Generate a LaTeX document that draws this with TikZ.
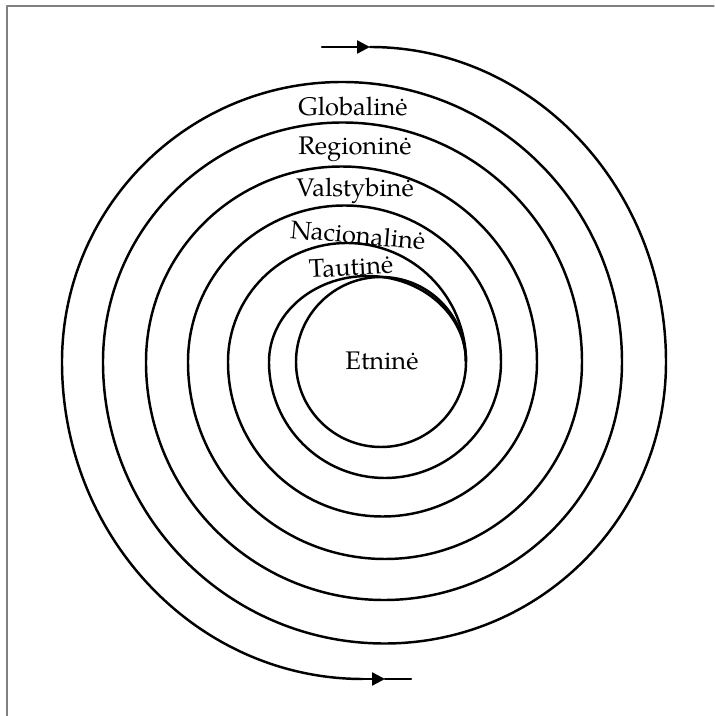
\documentclass[tikz,border=0pt]{standalone}
\usepackage{fontspec}
\setmainfont{TeX Gyre Pagella}
\usetikzlibrary{arrows.meta}
\begin{document}
\begin{tikzpicture}[line cap=round, line join=round,
    every node/.style={font=\fontsize{14.5}{17}\selectfont, inner sep=.5pt},
    spiral/.style={line width=1.4pt},
    tipmid/.style={-{Triangle[length=2.6mm,width=2.6mm]}}]
  \useasboundingbox (-7.26,-7.08) rectangle (7.02,7.24);
  \coordinate (In0)  at (-0.82,6.30);
  \coordinate (In1)  at (0.14,6.30);
  \coordinate (Ec)   at (0.36,0);
  \coordinate (Mid)  at (2.06,0);
  \coordinate (Out0) at (0,-6.34);
  \coordinate (Out1) at (0.44,-6.34);
  \coordinate (Out2) at (0.96,-6.34);

  \draw[gray, line width=.6pt] (-7.12,-7.08)--(-7.12,7.12)--(7.02,7.12);

  % way in
  \draw[spiral, tipmid] (In0)--(In1);
  \draw[spiral] (In1)
    arc[start angle=90, end angle=0, x radius=5.92, y radius=6.30]
    arc[start angle=0, end angle=-180, radius=5.63]
    arc[start angle=180, end angle=0, radius=4.79]
    arc[start angle=0, end angle=-180, radius=3.94]
    arc[start angle=180, end angle=0, radius=3.13]
    arc[start angle=0, end angle=-180, radius=2.32]
    arc[start angle=180, end angle=0, x radius=1.97, y radius=1.72];

  \draw[spiral] (Ec) circle[radius=1.70];

  % way out
  \draw[spiral] (Mid)
    arc[start angle=0, end angle=180, radius=2.38]
    arc[start angle=180, end angle=360, radius=3.09]
    arc[start angle=0, end angle=180, radius=3.91]
    arc[start angle=180, end angle=360, radius=4.76]
    arc[start angle=0, end angle=180, radius=5.60]
    arc[start angle=180, end angle=270, x radius=6.02, y radius=6.34];
  \draw[spiral, tipmid] (Out0)--(Out1);
  \draw[spiral] (Out1)--(Out2);

  \node (glob) at (-0.20,5.10) {Globalinė};
  \node (reg)  at (-0.16,4.26) {Regioninė};
  \node (val)  at (-0.16,3.42) {Valstybinė};
  \node[rotate=-5] (nac) at (-0.10,2.54) {Nacionalinė};
  \node[rotate=3]  (taut) at (-0.24,1.90) {Tautinė};
  \node (etn)  at (0.38,0.02) {Etninė};
\end{tikzpicture}
\end{document}
